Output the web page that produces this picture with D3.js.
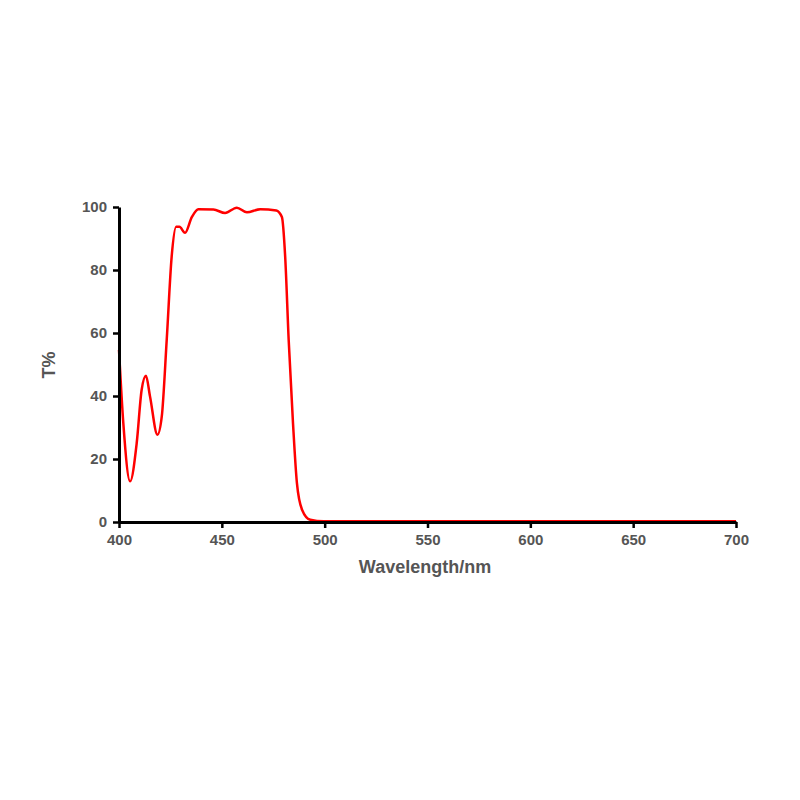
<!DOCTYPE html><html><head><meta charset="utf-8"><script src="https://d3js.org/d3.v7.min.js"></script>
<style>body{margin:0;background:#fff}</style></head><body><svg id="c" width="800" height="800"></svg>
<script>
const wavelength=[400,402.1,405.4,408.6,411,413.1,415.1,418.7,420.8,423.2,425.6,427.8,429.4,432.1,435.4,438.6,445.9,451.6,457.3,462.2,468.7,476.5,479.2,480.8,482.5,484.6,486.5,489,493,499.5,550,600,650,700];
const transmission=[54.6,31.4,12.9,25,41.9,46.4,39.8,27.7,33.5,57.8,84.2,93.7,93.7,91.8,96.8,99.3,99.2,98.1,99.8,98.3,99.3,98.9,96.8,84.2,57.8,31.4,12.4,3.9,0.7,0.2,0.2,0.2,0.2,0.2];
const xTicks=[400,450,500,550,600,650,700];
const yTicks=[0,20,40,60,80,100];
const svg=d3.select("#c");
const x=d3.scaleLinear().domain([400,700]).range([119,736]);
const y=d3.scaleLinear().domain([0,100]).range([522,207]);
const font="Liberation Sans, Arial, sans-serif";
const pts=wavelength.map((w,i)=>[w,transmission[i]]);
svg.append("path").datum(pts).attr("fill","none").attr("stroke","#ff0000").attr("stroke-width",2.5)
 .attr("d",d3.line().x(d=>x(d[0])).y(d=>y(d[1])).curve(d3.curveMonotoneX));
const xa=svg.append("g").attr("transform","translate(0,522)").call(d3.axisBottom(x).tickValues(xTicks).tickSize(6).tickSizeOuter(0).tickPadding(6));
const ya=svg.append("g").attr("transform","translate(119,0)").call(d3.axisLeft(y).tickValues(yTicks).tickSize(6).tickSizeOuter(0).tickPadding(6));
[xa,ya].forEach(a=>{a.select(".domain").attr("stroke","#000").attr("stroke-width",3);
 a.selectAll(".tick line").attr("stroke","#000").attr("stroke-width",2.5);
 a.selectAll("text").attr("font-family",font).attr("font-size",15).attr("font-weight","bold").attr("fill","#555");});
svg.append("text").attr("x",425).attr("y",573).attr("text-anchor","middle").attr("font-family",font).attr("font-size",18).attr("font-weight","bold").attr("fill","#555").text("Wavelength/nm");
svg.append("text").attr("transform","translate(55,365) rotate(-90)").attr("text-anchor","middle").attr("font-family",font).attr("font-size",18).attr("font-weight","bold").attr("fill","#555").text("T%");
</script></body></html>
